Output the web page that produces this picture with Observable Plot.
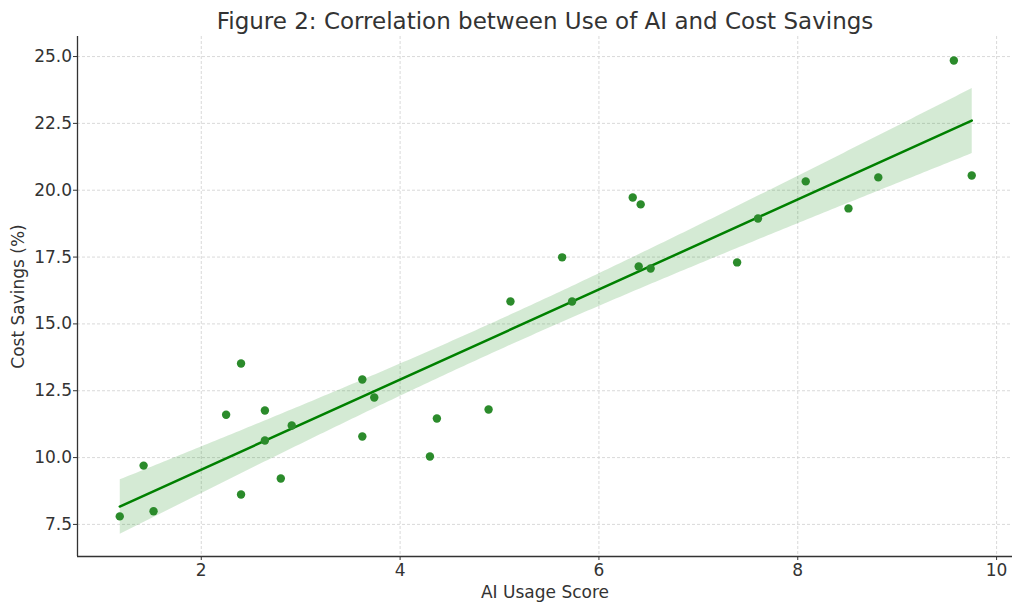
<!DOCTYPE html>
<html>
<head>
<meta charset="utf-8">
<script src="https://cdn.jsdelivr.net/npm/d3@7"></script>
<script src="https://cdn.jsdelivr.net/npm/@observablehq/plot@0.6"></script>
<style>
  html, body { margin: 0; padding: 0; background: #fff; }
</style>
</head>
<body>
<div id="chart"></div>
<script>
const titleText = "Figure 2: Correlation between Use of AI and Cost Savings";
const xLabel = "AI Usage Score";
const yLabel = "Cost Savings (%)";

const aiUsage = [1.18, 1.42, 1.52, 2.25, 2.40, 2.40, 2.64, 2.64, 2.80, 2.91,
                 3.62, 3.62, 3.74, 4.30, 4.37, 4.89, 5.11, 5.63, 5.73, 6.34,
                 6.42, 6.40, 6.52, 7.39, 7.60, 8.08, 8.51, 8.81, 9.57, 9.75];
const costSavings = [7.80, 9.70, 7.99, 11.60, 13.52, 8.62, 11.76, 10.64, 9.22, 11.20,
                     12.92, 10.79, 12.25, 10.04, 11.46, 11.80, 15.84, 17.49, 15.84, 19.73,
                     19.47, 17.15, 17.07, 17.30, 18.94, 20.33, 19.32, 20.48, 24.85, 20.55];

const xTicks = [2, 4, 6, 8, 10];
const yTicks = [7.5, 10, 12.5, 15, 17.5, 20, 22.5, 25];
const xDomain = [0.755, 10.16];
const yDomain = [6.3, 25.75];

const data = aiUsage.map((x, i) => ({x, y: costSavings[i]}));

const font = "'DejaVu Sans', sans-serif";

const chart = Plot.plot({
  width: 1012,
  height: 604,
  marginLeft: 77,
  marginRight: 0,
  marginTop: 36,
  marginBottom: 48,
  style: {fontFamily: font, fontSize: "17px", color: "#333", background: "#fff"},
  x: {domain: xDomain},
  y: {domain: yDomain},
  marks: [
    Plot.gridX(xTicks, {stroke: "#cfcfcf", strokeOpacity: 1, strokeDasharray: "3,2", strokeWidth: 0.8}),
    Plot.gridY(yTicks, {stroke: "#cfcfcf", strokeOpacity: 1, strokeDasharray: "3,2", strokeWidth: 0.8}),
    Plot.linearRegressionY(data, {x: "x", y: "y", stroke: "#008000", strokeWidth: 2.5, fill: "#008000", fillOpacity: 0.17, ci: 0.92}),
    Plot.dot(data, {x: "x", y: "y", r: 4.2, fill: "#2b8b2b", stroke: "none"}),
    Plot.axisX(xTicks, {tickSize: 4, tickPadding: 3, fontSize: 17, label: null, stroke: "#333"}),
    Plot.axisY(yTicks, {tickSize: 4, tickPadding: 1.5, fontSize: 17, label: null, tickFormat: d => d.toFixed(1), stroke: "#333"}),
    Plot.ruleX([xDomain[0]], {stroke: "#333", strokeWidth: 1.3}),
    Plot.ruleY([yDomain[0]], {stroke: "#333", strokeWidth: 1.3}),
    Plot.text([titleText], {frameAnchor: "top", dy: -15, fontSize: 23, fill: "#333", lineAnchor: "middle", textAnchor: "middle"}),
    Plot.text([xLabel], {frameAnchor: "bottom", dy: 36.5, fontSize: 17, fill: "#333", lineAnchor: "middle", textAnchor: "middle"}),
    Plot.text([yLabel], {frameAnchor: "left", dx: -59, rotate: -90, fontSize: 17, fill: "#333", lineAnchor: "middle", textAnchor: "middle"})
  ]
});
document.getElementById("chart").appendChild(chart);
</script>
</body>
</html>
